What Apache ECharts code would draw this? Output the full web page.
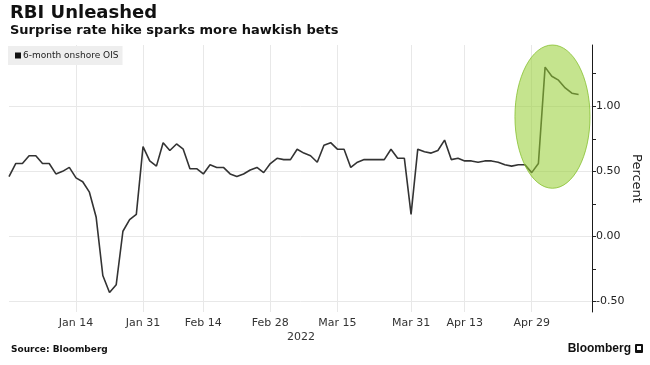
<!DOCTYPE html>
<html><head><meta charset="utf-8">
<script src="https://cdn.jsdelivr.net/npm/echarts@6/dist/echarts.min.js"></script>
<style>html,body{margin:0;padding:0;background:#fff}#c{width:650px;height:365px}</style>
</head><body><div id="c"></div>
<script>
// ---- data ----
const dates = [
 '2021-12-31','2022-01-03','2022-01-04','2022-01-05','2022-01-06','2022-01-07','2022-01-10','2022-01-11','2022-01-12','2022-01-13',
 '2022-01-14','2022-01-17','2022-01-18','2022-01-19','2022-01-20','2022-01-21','2022-01-24','2022-01-25','2022-01-27','2022-01-28',
 '2022-01-31','2022-02-01','2022-02-02','2022-02-03','2022-02-04','2022-02-08','2022-02-09','2022-02-10','2022-02-11','2022-02-14',
 '2022-02-15','2022-02-16','2022-02-17','2022-02-18','2022-02-21','2022-02-22','2022-02-23','2022-02-24','2022-02-25','2022-02-28',
 '2022-03-02','2022-03-03','2022-03-04','2022-03-07','2022-03-08','2022-03-09','2022-03-10','2022-03-11','2022-03-14','2022-03-15',
 '2022-03-16','2022-03-17','2022-03-21','2022-03-22','2022-03-23','2022-03-24','2022-03-25','2022-03-28','2022-03-29','2022-03-30',
 '2022-03-31','2022-04-04','2022-04-05','2022-04-06','2022-04-07','2022-04-08','2022-04-11','2022-04-12','2022-04-13','2022-04-18',
 '2022-04-19','2022-04-20','2022-04-21','2022-04-22','2022-04-25','2022-04-26','2022-04-27','2022-04-28','2022-04-29','2022-05-02',
 '2022-05-04','2022-05-05','2022-05-06','2022-05-09','2022-05-10','2022-05-11','2022-05-12','2022-05-13'
];
const oisValues = [
 0.46,0.56,0.56,0.62,0.62,0.56,0.56,0.48,0.50,0.53,
 0.45,0.42,0.34,0.15,-0.30,-0.43,-0.37,0.04,0.13,0.17,
 0.69,0.58,0.54,0.72,0.66,0.71,0.67,0.52,0.52,0.48,
 0.55,0.53,0.53,0.48,0.46,0.48,0.51,0.53,0.49,0.56,
 0.60,0.59,0.59,0.67,0.64,0.62,0.57,0.70,0.72,0.67,
 0.67,0.53,0.57,0.59,0.59,0.59,0.59,0.67,0.60,0.60,
 0.17,0.67,0.65,0.64,0.66,0.74,0.59,0.60,0.58,0.58,
 0.57,0.58,0.58,0.57,0.55,0.54,0.55,0.55,0.49,0.56,
 1.30,1.23,1.20,1.14,1.10,1.09
];
const tickDates  = ['2022-01-14','2022-01-31','2022-02-14','2022-02-28','2022-03-15','2022-03-31','2022-04-13','2022-04-29'];
const tickLabels = ['Jan 14','Jan 31','Feb 14','Feb 28','Mar 15','Mar 31','Apr 13','Apr 29'];
const seriesName = '6-month onshore OIS';
const yLabelValues = [-0.5, 0, 0.5, 1.0];

// ---- layout / style ----
const FONT = 'DejaVu Sans';
const Y_MIN = -0.58, Y_MAX = 1.47;
const TOP = 45, BOTTOM_PX = 312, LEFT = 9, RIGHT = 58, H = 365;
const P = (BOTTOM_PX - TOP) / (Y_MAX - Y_MIN);
const zeroY = TOP + Y_MAX * P;
const yPx = v => zeroY - v * P;
const GRID_COLOR = '#e8e8e8';
// highlight annotation (data space)
const HL = {centerIndex: 81.1, centerValue: 0.92, halfWidthIdx: 5.6, halfHeightVal: 0.55};

const isTick = (i, v) => tickDates.indexOf(v) >= 0;
const chart = echarts.init(document.getElementById('c'), null, {renderer: 'canvas'});

const hiddenX = gi => ({type: 'category', gridIndex: gi, data: dates, boundaryGap: false, show: false});
const gridBase = {left: LEFT, right: RIGHT, outerBoundsMode: 'none', containLabel: false};

chart.setOption({
  animation: false,
  backgroundColor: '#fff',
  grid: [
    Object.assign({top: TOP, bottom: H - BOTTOM_PX}, gridBase),
    Object.assign({top: yPx(1.25), bottom: H - yPx(-0.5)}, gridBase),
    Object.assign({top: yPx(1.0), bottom: H - yPx(-0.5)}, gridBase)
  ],
  legend: {
    left: 8, top: 46, padding: [5, 4, 5, 7], backgroundColor: '#eeeeee',
    icon: 'rect', itemWidth: 6, itemHeight: 6, itemGap: 4,
    textStyle: {fontFamily: FONT, fontSize: 9, color: '#222', padding: [0,0,0,-3]},
    data: [seriesName]
  },
  xAxis: [
    {
      type: 'category', gridIndex: 0, data: dates, boundaryGap: false,
      axisLine: {show: false}, axisTick: {show: false},
      axisLabel: {interval: isTick, formatter: v => tickLabels[tickDates.indexOf(v)],
        fontFamily: FONT, fontSize: 11, color: '#333', margin: 6},
      splitLine: {show: true, interval: isTick, lineStyle: {color: GRID_COLOR, width: 1}}
    },
    hiddenX(1), hiddenX(2)
  ],
  yAxis: [
    {
      type: 'value', gridIndex: 0, position: 'right', min: Y_MIN, max: Y_MAX,
      axisLine: {show: true, lineStyle: {color: '#1a1a1a', width: 1}},
      axisTick: {show: false}, axisLabel: {show: false}, splitLine: {show: false},
      name: 'Percent', nameLocation: 'middle', nameRotate: -90, nameGap: 38,
      nameTextStyle: {fontFamily: FONT, fontSize: 13, color: '#222'}
    },
    {
      type: 'value', gridIndex: 1, position: 'right', min: -0.5, max: 1.25, interval: 0.25,
      axisLine: {show: false},
      axisTick: {show: true, length: 4, lineStyle: {color: '#222'}},
      axisLabel: {fontFamily: FONT, fontSize: 11, color: '#222', margin: 4,
        formatter: v => yLabelValues.some(t => Math.abs(t - v) < 1e-9) ? v.toFixed(2) : ''},
      splitLine: {show: false}
    },
    {
      type: 'value', gridIndex: 2, position: 'right', min: -0.5, max: 1.0, interval: 0.5,
      axisLine: {show: false}, axisTick: {show: false}, axisLabel: {show: false},
      splitLine: {show: true, lineStyle: {color: GRID_COLOR, width: 1}}
    }
  ],
  series: [{
    name: seriesName, type: 'line', xAxisIndex: 0, yAxisIndex: 0,
    data: oisValues, showSymbol: false, symbol: 'none',
    lineStyle: {color: '#333', width: 1.6}, itemStyle: {color: '#111'}, z: 3
  }]
});

// annotation ellipse from data coordinates
const p0 = chart.convertToPixel({gridIndex: 0}, [0, 0]);
const p1 = chart.convertToPixel({gridIndex: 0}, [1, 1]);
const dx = p1[0] - p0[0], dy = p1[1] - p0[1];
const cx = p0[0] + HL.centerIndex * dx;
const cy = p0[1] + HL.centerValue * dy;

chart.setOption({
  graphic: [
    {type: 'ellipse', z: 10, shape: {cx: cx, cy: cy, rx: Math.abs(HL.halfWidthIdx * dx), ry: Math.abs(HL.halfHeightVal * dy)},
     style: {fill: 'rgba(150,206,50,0.55)', stroke: 'rgba(130,190,40,0.75)', lineWidth: 1}},
    {type: 'text', left: 10, top: 4, z: 20, style: {text: 'RBI Unleashed', font: 'bold 18px "DejaVu Sans"', fill: '#111'}},
    {type: 'text', left: 10, top: 24, z: 20, style: {text: 'Surprise rate hike sparks more hawkish bets', font: 'bold 13px "DejaVu Sans"', fill: '#111'}},
    {type: 'text', x: 301, y: 337, z: 20, style: {text: '2022', font: '11px "DejaVu Sans"', fill: '#333', align: 'center', verticalAlign: 'middle'}},
    {type: 'text', x: 11, y: 350, z: 20, style: {text: 'Source: Bloomberg', font: 'bold 9px "DejaVu Sans"', fill: '#111', verticalAlign: 'middle'}},
    {type: 'text', x: 631, y: 349, z: 20, style: {text: 'Bloomberg', font: 'bold 12px "Liberation Sans"', fill: '#111', align: 'right', verticalAlign: 'middle'}},
    {type: 'rect', z: 20, shape: {x: 635, y: 344, width: 8, height: 9, r: 1}, style: {fill: '#111'}},
    {type: 'rect', z: 21, shape: {x: 637, y: 346, width: 4, height: 4}, style: {fill: '#fff'}}
  ]
});
</script></body></html>
